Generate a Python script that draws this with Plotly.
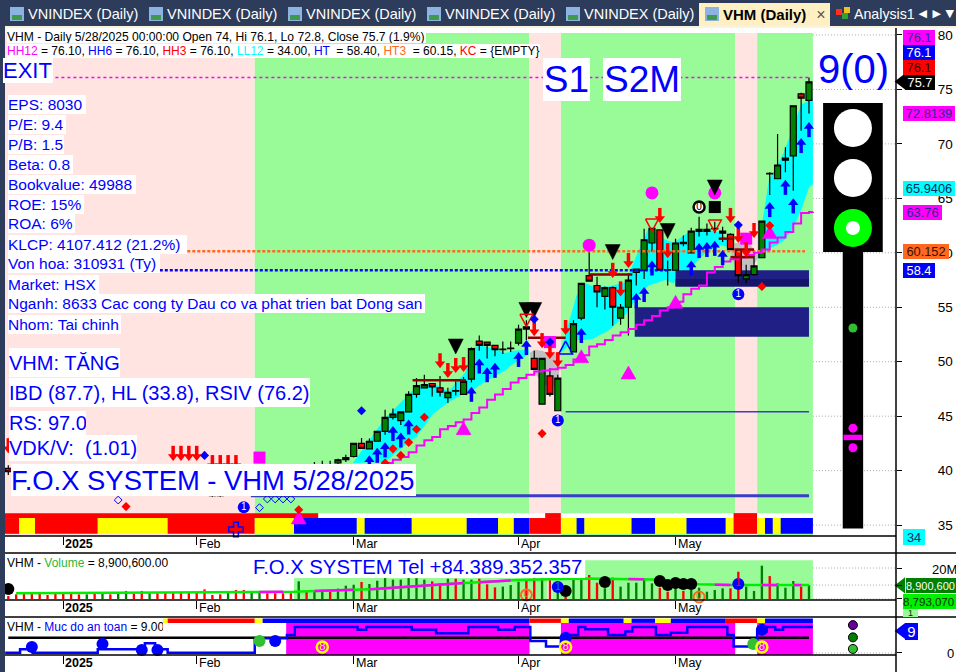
import plotly.graph_objects as go

# ---------- DATA (bar index, prices, volumes in millions) ----------
ohlc = [
(-2,40.2,40.5,39.6,39.9),(-1,39.9,40.3,39.5,40.1),(0,40.1,40.4,39.8,40.0),(1,40,40.3,39.6,39.8),
(2,39.8,40.2,39.5,40),(3,40,40.3,39.7,39.9),(4,39.9,40.3,39.5,39.7),(5,39.7,40.1,39.3,39.6),
(6,39.6,40,39.2,39.4),(7,39.4,39.9,39.1,39.2),(8,39.2,39.7,39,39.5),(9,39.5,39.8,39,39.2),
(10,39.2,39.8,39,39.6),(11,39.6,39.9,39.2,39.3),(12,39.3,39.7,38.9,39.5),(13,39.5,39.9,39.1,39.7),
(14,39.7,40,39.2,39.3),(15,39.3,39.6,38.8,38.9),(16,38.9,39.4,38.7,39.2),(17,39.2,39.4,38.7,38.8),
(18,38.8,39.2,38.5,38.6),(19,38.6,39,38.3,38.4),(20,38.4,38.8,38.1,38.2),(21,38.2,38.6,37.9,38),
(22,38,38.4,37.8,37.9),(23,37.9,38.3,37.7,37.8),(24,37.8,38.2,37.6,37.7),(25,37.7,38.1,37.6,37.8),
(26,37.8,38.3,37.7,38.1),(27,38.1,38.4,37.7,37.9),(28,37.9,38.2,37.8,38),(29,38,38.6,37.9,38.4),
(30,38.4,38.8,38.2,38.6),(31,38.6,39,38.4,38.8),(32,38.8,39.2,38.6,38.9),(33,38.9,39.3,38.7,39.1),
(34,39.1,39.5,38.9,39.3),(35,39.3,40.4,39.2,40.0),(36,40,40.5,39.8,39.9),(37,39.9,40.8,39.8,40.4),
(38,40.4,40.9,40.1,40.2),(39,40.2,40.9,40.0,40.5),(40,40.7,41.1,40.5,41),(41,41,41.45,40.8,41.2),
(42,41.3,42.5,41.2,42.5),(43,42.5,43,42,42.05),(44,42,42.95,42,42.7),(45,42.7,43.6,42.7,43.6),
(46,43.6,45.6,43.3,44.9),(47,44.9,45.7,44.7,45.2),(48,44.6,45.4,44.2,45.4),(49,45.4,47.3,45.4,47),
(50,47,48.5,46.7,47.8),(51,47.6,48.8,47.6,47.9),(52,48,48,46.8,47.7),(53,47.6,48.7,46.8,47.2),
(54,46.7,47.6,46.2,47.2),(55,47.3,48.2,46.9,47.35),(56,47,48.6,47,48.2),(57,48.4,51.3,48.1,51.2),
(58,51.9,52.4,51,51.5),(59,51.8,51.8,50.3,51.5),(60,51.5,51.5,50.5,51.1),(61,51.1,51.85,50.7,51.15),
(62,51.2,51.85,50.9,51.25),(63,51.7,53.4,51.5,53),(64,53.2,53.8,52,53),(65,50.3,51,49.3,49.3),
(66,46.1,50.3,46.1,50.3),(67,48.7,49.4,46.8,47),(68,45.5,48.8,45.5,48.5),(70,50.9,53.8,50.9,53.5),
(71,54,57.2,53.8,57.2),(72,57.9,60.2,57.4,57.4),(73,57,57.8,55,56.4),(74,56,56.9,54.8,56.8),
(75,56.8,56.9,53.3,55),(76,54,55.3,53.4,55),(77,55,58.1,52.4,57.5),(78,58.2,58.5,57,58.5),
(79,58.4,62.2,57.6,61.2),(80,60.9,62.3,60.1,62.25),(81,62.1,62.1,58.4,58.4),(82,58.4,59.3,57,58.45),
(83,58.4,61.3,58.4,60.9),(84,60.85,61.6,60.6,60.95),(85,60,62.3,60,62),(86,61.97,63.3,61.5,62.15),
(87,61.97,62.7,61.6,62.15),(88,62.2,62.85,61.8,62.25),(89,61.8,62.4,61,62),(90,61.7,61.8,60.3,60.3),
(91,60.2,60.2,57.2,57.9),(92,57.6,58.9,57.2,58),(93,58,59.8,57.9,58.8),(94,59.55,62.9,59.55,62.9),
(95,67.25,67.4,65.3,67.3),(96,66.8,70.9,66.8,68.06),(97,68.5,69.7,67.4,68.7),(98,68.9,73.5,65.7,73.5),
(99,74.6,74.7,71.2,74.2),(100,74,76.1,72.8,75.7),
]
candle_i=[r[0] for r in ohlc]; candle_o=[r[1] for r in ohlc]; candle_h=[r[2] for r in ohlc]
candle_l=[r[3] for r in ohlc]; candle_c=[r[4] for r in ohlc]

band1_x=[41.9,46,49,50,52.1,54.1,56.2,57.2,58.2,60.3,61.3,62.3,64.3]
band1_u=[40.7,44.8,47,47.7,48,47.3,49,51.3,51.5,51.1,50.8,51,51.1]
band1_l=[40.7,40.8,42.6,43.1,45.2,46.3,47.1,47.4,47.9,48.8,49.2,49.8,50.7]
band2_x=[68.4,69.4,70.4,71.5,72.5,74.5,76.6,78.6,79.6,81.7,82.7,84.7,86.8,88.8,89.8]
band2_u=[51.1,53.6,56.1,57.2,56.9,56.9,57.3,60.7,62.3,61.2,60.9,61.9,62.1,61.9,60.9]
band2_l=[50.8,51.5,52,52,52.1,52.9,54.3,56.4,57,57.5,57.2,58.4,60,60.7,60.5]
band3_x=[93.4,93.9,94.9,95.9,96.9,98,99,100,100.5]
band3_u=[59.7,62.1,66.7,67.9,69.4,71.6,73.6,74,74.2]
band3_l=[59.5,59.5,60.4,60.7,61.2,62.3,63.9,66,66.3]
gray1_x=[64.4,65,66,67,68,68.4]; gray1_u=[50.8,51.1,51,50.7,50.8,51]; gray1_l=[50.7,49,48,47.7,47.8,50.8]
gray2_x=[90,90.6,91.5,92.5,93.4]; gray2_u=[60.7,60.9,60.9,60.8,59.8]; gray2_l=[60.2,58.4,58.4,58.4,59.4]

step_i=list(range(46,101))+[100.5]
step_v=[40.7,41,41.25,41.7,42.3,42.8,43.1,43.8,44.1,44.45,44.7,45.3,45.8,46.5,47,47.5,48.1,48.5,48.8,49.1,49.2,49.3,49.45,49.7,50.2,50.6,51.4,51.6,52,52.4,52.7,53,53.4,53.8,54.2,54.7,55,55.5,56.2,56.7,57,58.2,58.7,59.2,59.4,59.6,59.8,60,60.3,60.95,61.4,61.9,62.7,63.65,63.75,63.76]

red_arrow_i=[93,92,91,90,82,81,77,76,75,69,68,67,66,65,56,55,54,53,19,20,21,22,24,25,26,27,-2]
red_arrow_p=[61.36,59.6,60.9,62.74,59.5,62.74,58.6,56,57.7,52.45,49.5,50.25,51.25,52.35,49.05,48.96,48.5,49.4,40.9,40.9,40.9,40.9,40.05,40.05,40.05,40.05,41.6]
blue_arrow_i=[100,99,98,97,95,89,88,87,86,85,80,79,78,71,64,63,60,59,58,57,49,48,47,46,45,44]
blue_arrow_p=[72,70.54,65,66.7,64.66,60.26,61.1,61,60.9,59.3,59.3,56.86,56.3,53.1,52,50.9,49.9,49.5,50.3,47.7,44.7,43.5,44.1,42.6,42.1,41.4]
black_tri_i=[82,75,88,55,64,65]; black_tri_p=[62,60.07,66,51.4,54.75,54.75]
mag_tri_i=[56,71,77,83,95,35]; mag_tri_p=[43.9,50.5,49,55.5,61.9,35.7]
red_hollow_i=[80,88,64]; red_hollow_p=[62.55,62.46,53.8]
blue_hollow_i=[69]; blue_hollow_p=[51.3]
mag_dot_i=[80,72,88]; mag_dot_p=[65.5,60.7,65.5]
mag_sq_i=[30,67,92]; mag_sq_p=[41.2,51.8,61.3]
blue_dot_i=[65,67,91,43,23]; blue_dot_p=[53.9,51.8,62.55,45.5,41.4]
red_dot_i=[51,50,49,47,48,46,13,35,66,94,95]; red_dot_p=[44.9,43.8,42.6,42,41.4,40.7,36.7,36.4,43.4,56.9,62.5]
hollow_dia_i=[12,30,31,32,33,34]; hollow_dia_p=[37.3,36.6,37.4,37.4,37.4,37.4]
one_i=[91,68,28]; one_p=[56.2,44.6,36.65]
zero_i=[86]; zero_p=[64.2]
black_sq_i=[88]; black_sq_p=[64.2]
asterisk_i=[27]; asterisk_p=[34.6]

res_segments=[(14.4,18.2,40.4),(-2,4,40.05),(49.5,56.3,48.3),(72,77.5,58),(64.2,69,52.2),(88.5,90.5,61.3),(90.5,93,60.3),(90,93,59.6)]
levels=[(76.1,4,100,'#ff00ff','3px,3px',1.5),(60.15,20.8,99.5,'#ff6820','3px,2px',2.5),(58.4,17.3,82,'#0000ff','3px,2px',2.5)]
blue_line=[(45.4,69,100,1.5),(37.7,28.9,100,3)]
navy_rects=[(83,100,56.9,58.4,'#1f1f85'),(83,100,56.9,57.6,'#15156b'),(77.8,100,52.3,55,'#1f1f85')]

bg_stops=[-2.42,29.4,64.4,68.4,90.6,93.4,100.5]
bg_cols=['#ffe4e1','#98fb98','#ffe4e1','#98fb98','#ffe4e1','#98fb98']
strip_stops=[-2.42,-0.6,1.4,9.4,18.3,29.4,34.4,42.4,43.4,49.4,56.4,60.4,62.4,64.4,68.4,70.4,71.4,77.4,80.4,84.4,89.4,90.4,93.4,94.4,95.4,96.4,100.5]
strip_cols=['#ff0000','#ffff00','#ff0000','#ffff00','#ff0000','#ffff00','#0000ff','#ffff00','#0000ff','#ffff00','#0000ff','#ffff00','#0000ff','#ff0000','#ffff00','#0000ff','#ffff00','#0000ff','#ffff00','#0000ff','#ffff00','#ff0000','#ffff00','#0000ff','#ffff00','#0000ff']
strip_top_runs=[(-2.42,37.5,'#ff0000'),(37.5,66.4,'#ffffff'),(66.4,68.4,'#ff0000'),(68.4,90.4,'#ffffff'),(90.4,93.4,'#ff0000'),(93.4,100.5,'#ffffff')]

vol_i=list(range(-2,101))
vol_m=[1.9,3,3.7,3.7,3.7,2.6,4.3,3.7,3.7,3,3,3.7,4.3,3,4.3,5.2,3.7,5.2,3.7,3.7,4.3,4.3,4.3,4.3,4.3,6.2,2.6,3,4.3,5.8,5.8,4.3,5.2,3.7,3.7,3.7,3.7,
11.4,4.5,5.4,6,4.5,6.7,8.6,9.2,11,9.7,11.8,13.5,12.5,12.5,13.5,13.5,12.5,11.4,10.3,13.1,13.1,12.5,12.5,13.1,9.5,7.5,8,9,11.2,12.2,13.3,13.3,13.3,9,0.9,
13.8,13.8,15.5,10.5,6.9,13.8,8,10.5,10.5,12.3,10.1,7.3,4.7,6.9,5.2,5.8,7.3,4.7,5.8,6.9,6.9,17.6,8,5.2,21.5,14.8,10.1,7.3,11.6,8,8.9]
vol_col=('RRRRRRRRRR'+'GRGRGGRRG'+'RRRRRRRRR'+'G'+'RR'+'GG'+'RRRR'   # -2..34
         +'GRGGRGGGRGGGGGGGGRRGRGGR'                                  # 35..58
         +'RRGGGRRGRGRGGRRGRGGGGGRRGRGGGGGRRGGGRGGGRG')               # 59..100
ma_x=[-1,10,20,30,34.4,45,55,63,71,80,86,90,100]
ma_y=[3.7,3.9,4.2,4.5,4.7,6.5,10,12.3,13.3,12.6,9.5,9,9]
ma_mag_x=[(30,33),(37,42),(44,56),(58,62),(77,79),(88,90),(94,96),(98,99)]
vol_black_i=[-2,69,74,81,82,83,84,85]; vol_black_m=[6.5,5.2,11,11.6,9,10.3,9.7,9.7]
vol_one_i=[68,91,28]; vol_one_m=[7.7,9.7,-1.9]; vol_one_col=['#00a000','#ff0000','#ffffff']
vol_zero_i=[64,86]; vol_zero_m=[2.6,1.3]
vol_bg=[(34.4,71.5,13.5),(71.5,100.5,25)]

safe_x=[-2.4,-0.5,1.1,9.4,15.4,16.7,18.3,29.4,33.5,34.5,42.5,43.6,49.4,52.5,56.6,60.4,62.5,64.5,66.5,68.4,69.6,70.6,71.5,74.4,76.6,77.5,80.5,82.4,84.5,89.6,90.4,93.4,94.6,95.7,96.7,100.5]
safe_v=[0.1,1.3,0.1,1.3,3.35,1.3,0.1,5.1,6.2,9,8,9,8,6.8,9,8,9,4.15,2.2,5.1,6.2,9,8.2,6.2,7.4,9,6.2,7,9,6.2,2.2,7.4,9,8,9,9]
safe_bg=[(33.4,64.4),(68.4,90.6),(93.4,100.5)]
safe_strip_stops=[17.7,18.3,29.4,30.4,64.4,68.4,69.4,76.4,77.4,80.4,82.4,89.4,93.4,94.4,100.5]
safe_strip_cols=['#ffff00','#ff0000','#ffff00','#0000ff','#ff0000','#ffff00','#0000ff','#ffff00','#0000ff','#ffff00','#0000ff','#ff0000','#ffff00','#0000ff']
safe_blue_i=[1,10,15,17,32,69,94]; safe_blue_v=[2.1,3.1,1,1,4.15,5.3,8]
safe_green_i=[30,92.9]; safe_green_v=[4.15,3.1]
safe_eight_i=[38,69,94]; safe_eight_v=[2.1,2.1,2.1]
safe_nine_i=[35,38]; safe_nine_v=[-3.46,-3.46]
safe_one_i=[28,68,91]; safe_one_v=[-3.46,-3.46,-3.46]
safe_zero_i=[64,86]; safe_zero_v=[-3.46,-3.46]

month_labels=['2025','Feb','Mar','Apr','May']
month_ticks=[5,22,42,63,83]
price_ticks=[35,40,45,50,55,60,65,70,75,80]

# light column and signal markers
light_x=105.6
light_white=[71.46,66.87]; light_ring=[62.28]; light_dots_g=[53.1]; light_dots_m=[43.9,42.1]

# ---------- STYLE / LAYOUT ----------
W,H=956,672
FONT='Liberation Sans'
XR=[-2.42,118.73]
PX=10.89
def py(v): return 1-v/H
def xdom(): return [5/W,1]
traces=[]
shapes=[]
ann=[]
def rect(x0,x1,y0,y1,c,xr='x',yr='y',layer='below'):
    shapes.append(dict(type='rect',xref=xr,yref=yr,x0=x0,x1=x1,y0=y0,y1=y1,fillcolor=c,line=dict(width=0),layer=layer))
def poly(xs,up,lo,c):
    pts=list(zip(xs,up))+list(zip(xs[::-1],lo[::-1]))
    path='M '+' L '.join(f'{a} {b}' for a,b in pts)+' Z'
    shapes.append(dict(type='path',xref='x',yref='y',path=path,fillcolor=c,line=dict(width=0),layer='below'))
def grid(vals,xr,yr):
    for v in vals:
        shapes.append(dict(type='line',xref=xr,yref=yr,x0=100.5,x1=111.08,y0=v,y1=v,line=dict(color='#a8a8a8',width=1,dash='1px,2px'),layer='below'))
def T(**k):
    k.setdefault('hoverinfo','skip'); k.setdefault('showlegend',False); k.setdefault('cliponaxis',False)
    traces.append(go.Scatter(**k))
def mark(x,y,sym,size,color,ax=1,line=None,text=None,tcol='white',tsize=10):
    xa='x' if ax==1 else f'x{ax}'; ya='y' if ax==1 else f'y{ax}'
    T(x=x,y=y,xaxis=xa,yaxis=ya,mode='markers+text' if text else 'markers',text=text,textposition='middle center',
      textfont=dict(family=FONT,size=tsize,color=tcol),
      marker=dict(symbol=sym,size=size,color=color,line=line or dict(width=0)))
def tris(ix,ip,wpx,hpx,fill,line,down=True):
    xs=[];ys=[]
    hw=wpx/2/7.85; hh=hpx/2/PX
    s=-1 if down else 1
    for a,b in zip(ix,ip):
        xs+=[a-hw,a+hw,a,a-hw,None]; ys+=[b-s*hh,b-s*hh,b+s*hh,b-s*hh,None]
    T(x=xs,y=ys,mode='lines',fill='toself' if fill else None,fillcolor=fill,line=dict(color=line,width=1.5 if not fill else 0.5))
def arrows(ix,ip,color,up=True):
    s=1 if up else -1
    xs=[];ys=[]
    for a,b in zip(ix,ip):
        xs+=[a,a,None]; ys+=[b-s*0.45,b-s*1.38,None]
    T(x=xs,y=ys,mode='lines',line=dict(color=color,width=3.5))
    mark(ix,[b-s*0.41 for b in ip],'triangle-up' if up else 'triangle-down',9,color)

# backgrounds
grid(price_ticks,'x','y')
for i,c in enumerate(bg_cols):
    rect(bg_stops[i],bg_stops[i+1],34.0,80.18,c)
for a,b,c in strip_top_runs:
    rect(a,b,35.65,36.1,c)
for i,c in enumerate(strip_cols):
    rect(strip_stops[i],strip_stops[i+1],34.2,35.65,c)
poly(band1_x,band1_u,band1_l,'#00ffff')
poly(band2_x,band2_u,band2_l,'#00ffff')
poly(band3_x,band3_u,band3_l,'#00ffff')
poly(gray1_x,gray1_u,gray1_l,'#c0c0c0')
poly(gray2_x,gray2_u,gray2_l,'#c0c0c0')
for a,b,l,u,c in navy_rects:
    rect(a,b,l,u,c)

# candles
traces.append(go.Candlestick(x=candle_i,open=candle_o,high=candle_h,low=candle_l,close=candle_c,
    increasing=dict(fillcolor='#008000',line=dict(color='#000000',width=1.2)),
    decreasing=dict(fillcolor='#ff0000',line=dict(color='#000000',width=1.2)),
    whiskerwidth=0,hoverinfo='skip',showlegend=False))

# level lines
for v,a,b,c,d,w in levels:
    T(x=[a,b],y=[v,v],mode='lines',line=dict(color=c,dash=d,width=w))
for v,a,b,w in blue_line:
    T(x=[a,b],y=[v,v],mode='lines',line=dict(color='#3c3cc8',width=w))
T(x=step_i,y=step_v,mode='lines',line=dict(color='#ff00ff',width=2,shape='hv'))
for a,b,v in res_segments:
    T(x=[a,b],y=[v,v],mode='lines',line=dict(color='#8b0000',width=2.5))

# signal markers
tris(mag_tri_i,mag_tri_p,15,13,'#ff00ff','#ff00ff',down=False)
mark(mag_dot_i,mag_dot_p,'circle',13,'#ff00ff')
mark(mag_sq_i,mag_sq_p,'square',12,'#ff00ff')
tris(black_tri_i,black_tri_p,15,15,'#000000','#000000')
tris(red_hollow_i,red_hollow_p,13,12,None,'#ff0000')
tris(blue_hollow_i,blue_hollow_p,14,13,None,'#0000ff',down=False)
arrows(blue_arrow_i,blue_arrow_p,'#0000ff',True)
arrows(red_arrow_i,red_arrow_p,'#ff0000',False)
mark(blue_dot_i,blue_dot_p,'diamond',7,'#0000ff')
mark(red_dot_i,red_dot_p,'diamond',7,'#ff0000')
mark(hollow_dia_i,hollow_dia_p,'diamond-open',6,'#0000ff',line=dict(width=1,color='#0000ff'))
mark(asterisk_i,asterisk_p,'cross-open',12,'#0000ff',line=dict(width=1.5,color='#0000ff'))
mark(black_sq_i,black_sq_p,'square',12,'#000000')
mark(zero_i,zero_p,'circle',11,'#ffffff',line=dict(width=2.5,color='#000000'),text=['0'],tcol='#000000',tsize=10)
mark(one_i,one_p,'circle',12,'#0000ff',text=['1']*3,tsize=10)

# traffic light
rect(101.8,109.4,60.07,73.76,'#000000')
rect(104.3,106.9,34.7,60.07,'#000000')
mark([light_x]*2,light_white,'circle',38,'#ffffff')
mark([light_x],light_ring,'circle',38,'#00ff00')
mark([light_x],light_ring,'circle',14,'#ffffff')
mark([light_x],light_dots_g,'circle',9,'#32c032')
mark([light_x]*2,light_dots_m,'circle',9,'#ff00ff')
rect(104.4,106.8,42.8,43.3,'#ff00ff',layer='above')

# volume panel
grid([0,9,20],'x2','y2')
for a,b,t in vol_bg:
    rect(a,b,0,t,'#98fb98','x2','y2')
rect(66.7,67.3,0,13.5,'#ffffff','x2','y2')
traces.append(go.Bar(x=vol_i,y=vol_m,width=0.3,xaxis='x2',yaxis='y2',hoverinfo='skip',showlegend=False,
    marker=dict(color=['#ff0000' if c=='R' else '#008000' for c in vol_col],line=dict(width=0))))
T(x=ma_x,y=ma_y,xaxis='x2',yaxis='y2',mode='lines',line=dict(color='#00ee00',width=2.5))
mx=[];my=[]
for a,b in ma_mag_x:
    for q in (a,b):
        mx.append(q)
        for j in range(len(ma_x)-1):
            if ma_x[j]<=q<=ma_x[j+1]:
                my.append(ma_y[j]+(ma_y[j+1]-ma_y[j])*(q-ma_x[j])/(ma_x[j+1]-ma_x[j])); break
    mx.append(None); my.append(None)
T(x=mx,y=my,xaxis='x2',yaxis='y2',mode='lines',line=dict(color='#ff00ff',width=2.5))
mark(vol_black_i,vol_black_m,'circle',12,'#000000',ax=2)
mark(vol_one_i,vol_one_m,'circle',12,'#0000ff',ax=2,text=['1']*3,tcol=vol_one_col,tsize=10)
mark(vol_zero_i,vol_zero_m,'circle',11,'rgba(0,0,0,0)',ax=2,line=dict(width=2,color='#ff6820'),text=['0','0'],tcol='#ff6820',tsize=10)

# safety panel
grid([0],'x3','y3')
for a,b in safe_bg:
    rect(a,b,-0.7,10.4,'#ff00ff','x3','y3')
for i,c in enumerate(safe_strip_cols):
    rect(safe_strip_stops[i],safe_strip_stops[i+1],10.4,11.9,c,'x3','y3')
T(x=[-2,100],y=[5.3,5.3],xaxis='x3',yaxis='y3',mode='lines',line=dict(color='#000000',width=2.5))
T(x=safe_x,y=safe_v,xaxis='x3',yaxis='y3',mode='lines',line=dict(color='#0000ff',width=2.5,shape='hv'))
mark(safe_blue_i,safe_blue_v,'circle',12,'#0000ff',ax=3)
mark(safe_green_i,safe_green_v,'circle',12,'#32c032',ax=3)
mark(safe_eight_i,safe_eight_v,'circle',11,'rgba(0,0,0,0)',ax=3,line=dict(width=2.5,color='#ffff00'),text=['8']*3,tcol='#ffff00',tsize=11)
mark(safe_nine_i,safe_nine_v,'circle',12,'#000000',ax=3,text=['9','9'],tsize=10)
mark(safe_one_i,safe_one_v,'circle',12,'#0000ff',ax=3,text=['1']*3,tsize=10)
mark(safe_zero_i,safe_zero_v,'circle',11,'rgba(0,0,0,0)',ax=3,line=dict(width=2,color='#ff6820'),text=['0','0'],tcol='#ff6820',tsize=10)
mark([105.6,105.6,105.6],[9.65,5.4,1.4],'circle',9,['#660099','#008000','#32c032'],ax=3,line=dict(width=1,color='#000000'))

# chrome: px-placed boxes
def prect(x0,y0,x1,y1,c,layer='above'):
    shapes.append(dict(type='rect',xref='paper',yref='paper',x0=x0/W,x1=x1/W,y0=py(y1),y1=py(y0),fillcolor=c,line=dict(width=0),layer=layer))
def pline(x0,y0,x1,y1,c='#000000',w=1.5):
    shapes.append(dict(type='line',xref='paper',yref='paper',x0=x0/W,x1=x1/W,y0=py(y0),y1=py(y1),line=dict(color=c,width=w),layer='above'))
def box(x0,y0,x1,y1,text,size,color='#0000ff',bg='#ffffff',align='left',bold=False,family=FONT):
    t=f'<b>{text}</b>' if bold else text
    ann.append(dict(xref='paper',yref='paper',x=x0/W,y=py((y0+y1)/2),xanchor='left',yanchor='middle',width=x1-x0,height=y1-y0,
        text=t,showarrow=False,align=align,valign='middle',bgcolor=bg,borderpad=0,borderwidth=0,font=dict(family=family,size=size,color=color)))
def span(t,c): return f'<span style="color:{c}">{t}</span>'

prect(0,0,956,26,'#2d3c5a')
prect(0,26,956,28,'#fbf4dc')
prect(0,0,5,672,'#2d3c5a')
prect(5,28,7,33,'#fbf4dc')
prect(699,3,830,26,'#fff0c4')
tab_x=[10,149,288,427,566]
for x in tab_x:
    prect(x,7,x+14,21,'#8db4e0')
    prect(x+2,15,x+12,20,'#3f9a4c')
    box(x+18,4,x+132,24,'VNINDEX (Daily)',14.5,'#ffffff','rgba(0,0,0,0)')
prect(705,7,719,21,'#8db4e0'); prect(707,15,717,20,'#3f9a4c')
box(723,4,815,24,'VHM (Daily)',15,'#000000','rgba(0,0,0,0)',bold=True)
box(814,4,828,24,'×',16,'#555555','rgba(0,0,0,0)',align='center')
prect(836,9,842,15,'#ff3020'); prect(842,13,848,19,'#30a030'); prect(844,7,850,13,'#f0c020')
box(854,4,916,24,'Analysis1',14.2,'#ffffff','rgba(0,0,0,0)')
box(917,4,929,22,'◀',11,'#ffffff','rgba(0,0,0,0)',align='center',family='DejaVu Sans')
box(931,4,943,22,'▶',11,'#ffffff','rgba(0,0,0,0)',align='center',family='DejaVu Sans')
box(944,4,956,22,'▼',11,'#ffffff','rgba(0,0,0,0)',align='center',family='DejaVu Sans')

# axis rules
pline(896,28,896,672)
for y,x2 in [(536,896),(553,956),(600,896),(617,956),(655,896)]:
    pline(5,y,x2,y)

# header texts
box(7,30,426,43,'VHM - Daily 5/28/2025 00:00:00 Open 74, Hi 76.1, Lo 72.8, Close 75.7 (1.9%)',12.1,'#000000')
row2=span('HH12','#ff00ff')+' = 76.10, '+span('HH6','#0000ff')+' = 76.10, '+span('HH3','#ff0000')+' = 76.10, '+span('LL12','#00ffff')+' = 34.00, '+span('HT','#0000ff')+'  = 58.40, '+span('HT3','#ff6820')+'  = 60.15, '+span('KC','#ff0000')+' = {EMPTY}'
box(7,44,540,58,row2,12,'#000000')
box(3,58,53,83,'EXIT',22)
info_lines=[('EPS: 8030',86),('P/E: 9.4',66),('P/B: 1.5',64),('Beta: 0.8',73),('Bookvalue: 49988',136),('ROE: 15%',84),('ROA: 6%',75),('KLCP: 4107.412 (21.2%)',187),('Von hoa: 310931 (Ty)',160),('Market: HSX',99),('Nganh: 8633 Cac cong ty Dau co va phat trien bat Dong san',425),('Nhom: Tai chinh',121)]
for k,(t,xe) in enumerate(info_lines):
    yc=104+20*k
    box(8,yc-9.5,xe,yc+9.5,t,15.5)
box(9,348,120,377,'VHM: TĂNG',20)
box(9,378,310,407,'IBD (87.7), HL (33.8), RSIV (76.2)',20)
box(9,411,86,435,'RS: 97.0',20)
box(9,435,137,461,'VDK/V:  (1.01)',20)
box(11,464,416,496,'F.O.X SYSTEM - VHM 5/28/2025',27.4)
box(543,58,590,101,'S1',37,align='center')
box(603,58,681,101,'S2M',37,align='center')
box(815,48,892,90,'9(0)',40,bg='rgba(0,0,0,0)',align='center')

# price tags
box(903,30,935,45,'76.1',12.8,'#2b2b8a','#ff00ff',align='center')
box(903,45,935,60,'76.1',12.8,'#ffffff','#0000ff',align='center')
box(903,60,935,75,'76.1',12.8,'#3a0000','#ff0000',align='center')
box(905,75,935,90,'75.7',12.8,'#ffffff','#000000',align='center')
box(903,106,955,121,'72.8139',12.8,'#2b2b8a','#ff00ff',align='center')
box(903,181,955,196,'65.9406',12.8,'#003060','#00ffff',align='center')
box(903,205,942,220,'63.76',12.8,'#2b2b8a','#ff00ff',align='center')
box(903,244,949,259,'60.152',12.8,'#3a1000','#ff6820',align='center')
box(903,263,935,278,'58.4',12.8,'#ffffff','#0000ff',align='center')
box(903,529,925,545,'34',12.8,'#003060','#00ffff',align='center')
box(906,578,956,593,'8,900,600',11,'#ffffff','#008000')
box(903,594,956,609,'8,793,070',11.5,'#003000','#00ee00')
box(903,609,918,617,'1',9,'#003000','#98fb98',align='center')
box(905,623,918,640,'9',15,'#ffffff','#0000ff',align='center')
T(x=[111.8],y=[75.73],mode='markers',marker=dict(symbol='triangle-left',size=14,color='#000000'))
T(x=[111.8],y=[8.75],xaxis='x2',yaxis='y2',mode='markers',marker=dict(symbol='triangle-left',size=14,color='#008000'))
T(x=[111.8],y=[7.6],xaxis='x3',yaxis='y3',mode='markers',marker=dict(symbol='triangle-left',size=14,color='#0000ff'))

# lower panel captions
box(7,556,170,570,span('VHM - ','#000000')+span('Volume','#32b432')+span(' = 8,900,600.00','#000000'),12,'#000000')
box(253,556,585,578,'F.O.X SYSTEM Tel +84.389.352.357',20.3)
box(7,620,163,634,span('VHM - ','#000000')+span('Muc do an toan','#0000ff')+span(' = 9.00','#000000'),12,'#000000')

for yc in (544,608,663):
    for lab,t in zip(month_labels,month_ticks):
        ann.append(dict(xref='x',yref='paper',x=t+0.15,y=py(yc),xanchor='left',yanchor='middle',text=f'<b>{lab}</b>' if lab=='2025' else lab,
            showarrow=False,font=dict(family=FONT,size=12.5,color='#000000'),borderpad=0))
ann.append(dict(xref='paper',yref='paper',x=930/W,y=py(569),xanchor='left',yanchor='middle',text='20M',showarrow=False,font=dict(family=FONT,size=13,color='#000000')))
ann.append(dict(xref='paper',yref='paper',x=945/W,y=py(653),xanchor='left',yanchor='middle',text='0',showarrow=False,font=dict(family=FONT,size=13,color='#000000')))

def xax(anchor):
    return dict(domain=xdom(),range=XR,anchor=anchor,tickmode='array',tickvals=month_ticks,ticktext=['']*5,ticks='outside',ticklen=8,
        tickcolor='#000000',showgrid=False,zeroline=False,showline=False,rangeslider=dict(visible=False),fixedrange=True)
def yax(over,dom,rng,vals):
    return dict(domain=dom,range=rng,anchor='free',position=896/W,side='right',tickmode='array',tickvals=vals,showticklabels=False,ticks='outside',ticklen=5,tickcolor='#000000',
        showgrid=False,zeroline=False,showline=False,fixedrange=True,
        tickfont=dict(family=FONT,size=13.5,color='#000000'))
ya1=yax('x',[(H-536)/H,(H-28)/H],[34.0,80.64],price_ticks)
ya1.update(showticklabels=True,ticklabelstandoff=33)
layout=go.Layout(width=W,height=H,margin=dict(l=0,r=0,t=0,b=0),paper_bgcolor='#ffffff',plot_bgcolor='#ffffff',
    hovermode=False,barmode='overlay',showlegend=False,font=dict(family=FONT),boxgap=0.1,boxgroupgap=0.15,
    xaxis=xax('y'),xaxis2=xax('y2'),xaxis3=xax('y3'),
    yaxis=ya1,
    yaxis2=yax('x2',[(H-600)/H,(H-553)/H],[-0.65,29.7],[0,9,20]),
    yaxis3=yax('x3',[(H-655)/H,(H-617)/H],[-0.7,12.45],[0]),
    shapes=shapes,annotations=ann)
fig=go.Figure(data=traces,layout=layout)
fig.write_html('out.html',config=dict(displayModeBar=False),post_script="document.body.style.margin='0';document.body.style.overflow='hidden';")
